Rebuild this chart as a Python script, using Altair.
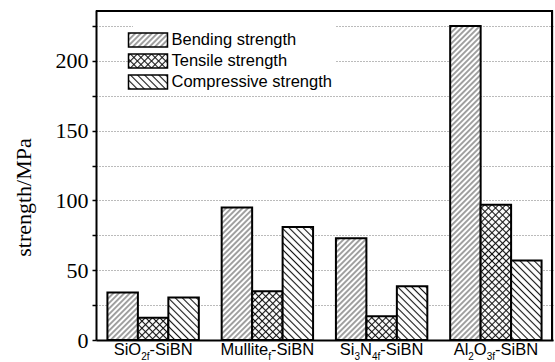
import altair as alt
import pandas as pd
import altair.utils.html as alt_html

# ---- data -------------------------------------------------------------
groups = ["SiO2f-SiBN", "Mullitef-SiBN", "Si3N4f-SiBN", "Al2O3f-SiBN"]
series = ["Bending strength", "Tensile strength", "Compressive strength"]
bending = [34, 95, 73, 225]
tensile = [16, 35, 17, 97]
compressive = [30.5, 81, 38.5, 57]

# tick labels with subscripts: (text, is_subscript)
label_parts = [
    [("SiO", 0), ("2f", 1), ("-SiBN", 0)],
    [("Mullite", 0), ("f", 1), ("-SiBN", 0)],
    [("Si", 0), ("3", 1), ("N", 0), ("4f", 1), ("-SiBN", 0)],
    [("Al", 0), ("2", 1), ("O", 0), ("3f", 1), ("-SiBN", 0)],
]

# ---- hatch fills (SVG patterns referenced by the bar fills) -------------
pattern_ids = ["hatchBending", "hatchTensile", "hatchCompressive"]
PATTERN_DEFS = """
<svg width="0" height="0" style="position:absolute;left:0;top:0" aria-hidden="true">
 <defs>
  <pattern id="hatchBending" patternUnits="userSpaceOnUse" width="3.9" height="3.9" patternTransform="rotate(45)">
   <rect width="3.9" height="3.9" fill="white"/>
   <line x1="1.95" y1="-1" x2="1.95" y2="5" stroke="#3a3a3a" stroke-width="0.95"/>
  </pattern>
  <pattern id="hatchTensile" patternUnits="userSpaceOnUse" width="5" height="5" patternTransform="rotate(45)">
   <rect width="5" height="5" fill="white"/>
   <line x1="2.5" y1="-1" x2="2.5" y2="6" stroke="#111" stroke-width="1.1"/>
   <line x1="-1" y1="2.5" x2="6" y2="2.5" stroke="#111" stroke-width="1.1"/>
  </pattern>
  <pattern id="hatchCompressive" patternUnits="userSpaceOnUse" width="5" height="5" patternTransform="rotate(-45)">
   <rect width="5" height="5" fill="white"/>
   <line x1="2.5" y1="-1" x2="2.5" y2="6" stroke="#111" stroke-width="1.1"/>
  </pattern>
 </defs>
</svg>
"""

_standard = alt_html.TEMPLATES["standard"]


class _PatternPage:
    """Standard page template with the hatch pattern definitions added."""

    def render(self, **kw):
        page = _standard.render(**kw)
        if "<body>" in page:
            return page.replace("<body>", "<body>" + PATTERN_DEFS, 1)
        return PATTERN_DEFS + page


alt_html.TEMPLATES["standard"] = _PatternPage()

# ---- tables -----------------------------------------------------------
rows = []
for g, b, t, c in zip(groups, bending, tensile, compressive):
    for s, v in zip(series, (b, t, c)):
        rows.append({"group": g, "series": s, "value": v})
bars_df = pd.DataFrame(rows)

# Arial / Liberation Sans advance widths (em/1000) for the label glyphs
ADV = {"S": 667, "i": 222, "O": 778, "2": 556, "f": 278, "-": 333, "B": 667,
       "N": 722, "M": 833, "u": 556, "l": 222, "t": 278, "e": 556, "3": 556,
       "4": 556, "A": 667}
MAIN_FS, SUB_FS, SUB_DY = 16.5, 10, 5

lab_rows = []
for g, parts in zip(groups, label_parts):
    widths = [sum(ADV[ch] for ch in txt) / 1000 * (SUB_FS if sub else MAIN_FS)
              for txt, sub in parts]
    x = -sum(widths) / 2
    for (txt, sub), w in zip(parts, widths):
        lab_rows.append({"group": g, "text": txt, "dx": x,
                         "fs": SUB_FS if sub else MAIN_FS,
                         "dy": SUB_DY if sub else 0})
        x += w
labels_df = pd.DataFrame(lab_rows)

# ---- chart ------------------------------------------------------------
W, H = 457, 330
x_scale = alt.Scale(domain=groups, paddingInner=0.2, paddingOuter=0.1)

bars = alt.Chart(bars_df).mark_bar(stroke="black", strokeWidth=2).encode(
    x=alt.X("group:N", scale=x_scale, sort=groups,
            axis=alt.Axis(labels=False, ticks=False, title=None,
                          domainColor="black", domainWidth=2, grid=False)),
    xOffset=alt.XOffset("series:N", sort=series,
                        scale=alt.Scale(domain=series, paddingInner=0, paddingOuter=0)),
    y=alt.Y("value:Q",
            scale=alt.Scale(domain=[0, 236.5], nice=False, zero=True),
            axis=alt.Axis(
                values=list(range(0, 226, 25)),
                labelExpr="datum.value % 50 == 0 ? datum.label : ''",
                grid=True, gridDash=[1, 2], gridColor="#777", gridWidth=1,
                tickSize=4, tickColor="black", tickWidth=1.5,
                domainColor="black", domainWidth=2,
                labelFont="Liberation Serif", labelFontSize=22, labelColor="black",
                labelPadding=4,
                title="strength/MPa", titleFont="Liberation Serif",
                titleFontSize=22, titleFontWeight="normal", titleColor="black",
                titleAngle=270, titleX=-73, titleY=187,
                titleAlign="center", titleBaseline="middle")),
    color=alt.Color("series:N",
                    scale=alt.Scale(domain=series,
                                    range=[f"url(#{p})" for p in pattern_ids]),
                    legend=alt.Legend(
                        title=None, orient="none", legendX=37, legendY=15,
                        direction="vertical", fillColor="white", padding=4,
                        symbolType="M-1.95,-0.7L1.95,-0.7L1.95,0.7L-1.95,0.7Z",
                        symbolSize=400, symbolStrokeColor="black",
                        symbolStrokeWidth=1.5, symbolOpacity=1,
                        labelFont="Liberation Sans", labelFontSize=16.5,
                        labelColor="black", labelOffset=12.5, labelLimit=400,
                        rowPadding=0)),
)

labels = alt.Chart(labels_df).mark_text(
    align="left", baseline="alphabetic", font="Liberation Sans", color="black",
    dx=alt.ExprRef("datum.dx"), dy=alt.ExprRef("datum.dy"),
).encode(
    x=alt.X("group:N", scale=x_scale, sort=groups),
    y=alt.value(H + 15),
    text="text:N",
    size=alt.Size("fs:Q", scale=None),
)

# top and right edges of the plotting box
one = pd.DataFrame({"k": [0]})
top_edge = alt.Chart(one).mark_rule(color="black", strokeWidth=2).encode(
    x=alt.value(0), x2=alt.value(W), y=alt.value(1))
right_edge = alt.Chart(one).mark_rule(color="black", strokeWidth=2).encode(
    x=alt.value(W - 1), y=alt.value(0), y2=alt.value(H))

chart = alt.layer(bars, labels, top_edge, right_edge).properties(
    width=W, height=H,
    autosize=alt.AutoSizeParams(type="none"),
    padding={"left": 96, "top": 10, "right": 2, "bottom": 22},
    background="white",
)

chart.save("out.html", embed_options={"renderer": "svg", "actions": False})
